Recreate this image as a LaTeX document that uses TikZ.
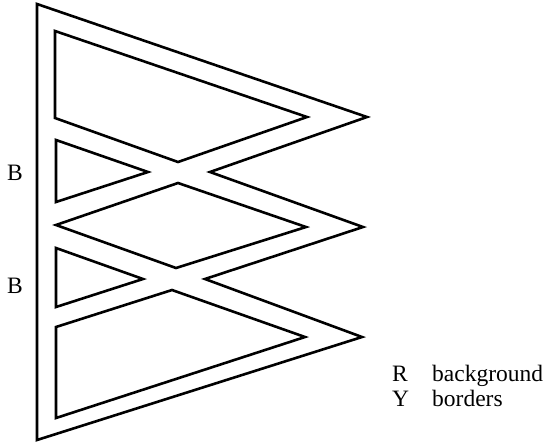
\documentclass[tikz,border=0pt]{standalone}
\usepackage{fontspec}
\setmainfont{Liberation Serif}
\begin{document}
\begin{tikzpicture}[x=1pt,y=-1pt,
  outline/.style={line width=2.6pt,line join=miter},
  lbl/.style={anchor=base west,inner sep=0pt,font=\fontsize{23.5}{27}\selectfont}]
\useasboundingbox (0,0) rectangle (545,445);
% outer border
\draw[outline] (37,4) -- (367,117) -- (210,172) -- (363,227) -- (205,279)
  -- (362,337) -- (37,440) -- cycle;
% top quadrilateral
\draw[outline] (55,31) -- (307,117) -- (178,162) -- (55,118) -- cycle;
% small triangle 1
\draw[outline] (56,140) -- (148,172) -- (56,202) -- cycle;
% diamond
\draw[outline] (56,225) -- (178,183) -- (306,227) -- (176,268) -- cycle;
% small triangle 2
\draw[outline] (56,248) -- (143,279) -- (56,307) -- cycle;
% bottom quadrilateral
\draw[outline] (56,327) -- (172,290) -- (305,337) -- (56,418) -- cycle;
% labels
\node[lbl] (b1) at (7,180) {B};
\node[lbl] (b2) at (7,293) {B};
\node[lbl] (r) at (392,381) {R};
\node[lbl] (rt) at (432,381) {background};
\node[lbl] (y) at (392,406) {Y};
\node[lbl] (yt) at (432,406) {borders};
\end{tikzpicture}
\end{document}
